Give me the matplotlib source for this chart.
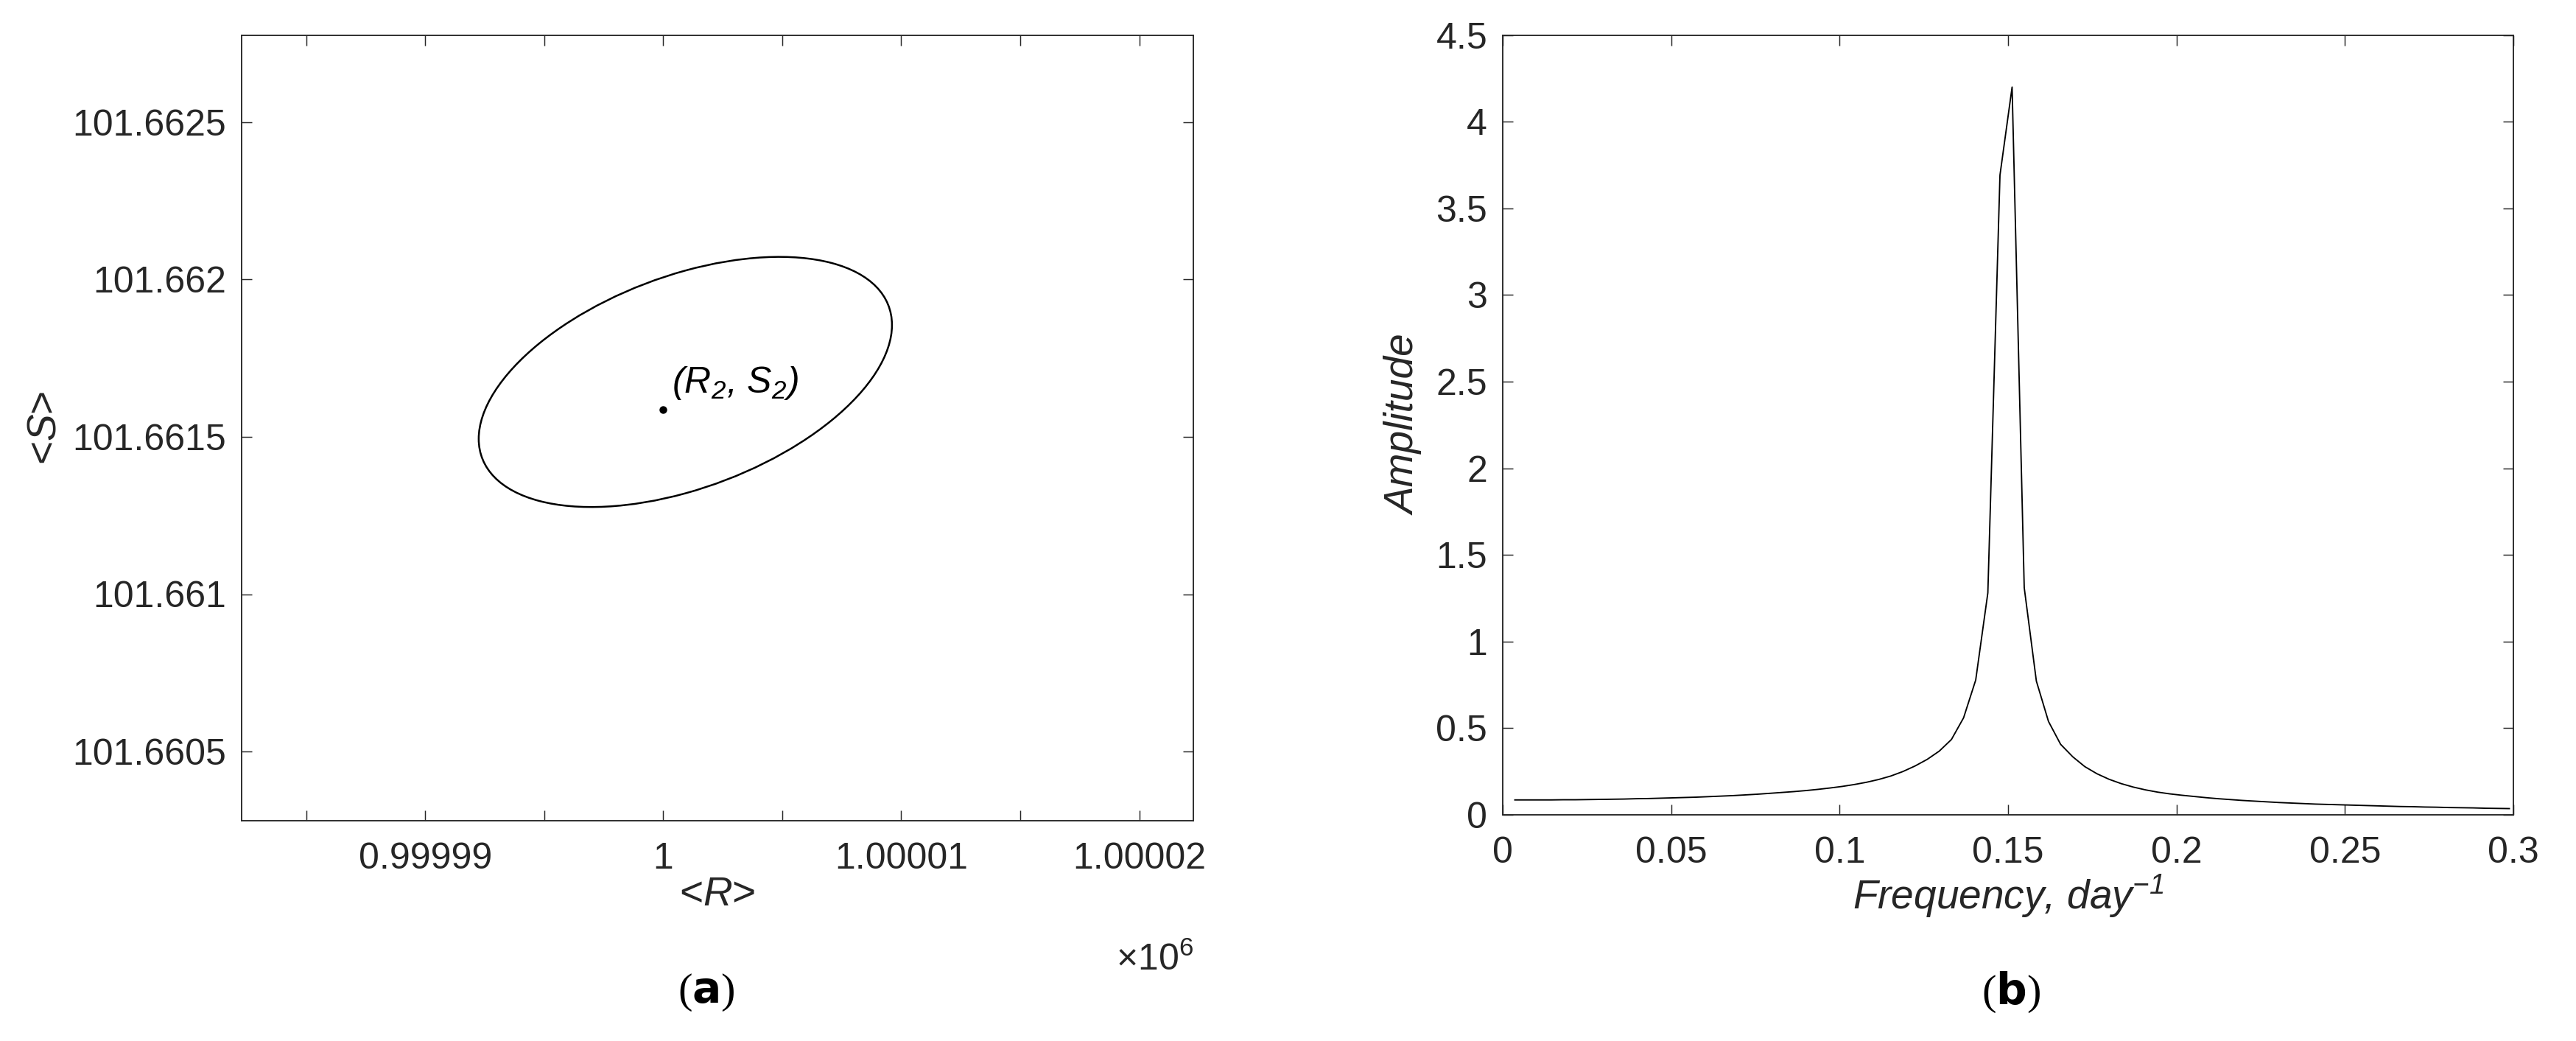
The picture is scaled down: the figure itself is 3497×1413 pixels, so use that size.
import numpy as np
import matplotlib
matplotlib.use("Agg")
import matplotlib.pyplot as plt
from matplotlib.patches import Ellipse
from matplotlib.transforms import Affine2D
from matplotlib.ticker import FuncFormatter, MultipleLocator

plt.rcParams['font.family'] = ['Liberation Sans', 'DejaVu Sans']
plt.rcParams['mathtext.fontset'] = 'custom'
plt.rcParams['mathtext.rm'] = 'Liberation Sans'
plt.rcParams['mathtext.it'] = 'Liberation Sans:italic'
plt.rcParams['mathtext.default'] = 'regular'

# ---------------- data: panel (a) ----------------
point_R2 = 1000000.0          # <R> of the equilibrium point
point_S2 = 101.661587         # <S> of the equilibrium point
ell_center_R = 1000000.93     # ellipse centre
ell_center_S = 101.6616745
ell_half_R = 8.68             # half extent along <R>
ell_half_S = 0.0003975        # half extent along <S>
ell_corr = 0.455              # correlation (tilt)
a_xlim = (999982.29, 1000022.27)
a_ylim = (101.66028, 101.662776)
a_yticks = [101.6605, 101.661, 101.6615, 101.662, 101.6625]

# ---------------- data: panel (b) ----------------
freq = [0.0036, 0.0072, 0.0108, 0.0144, 0.018, 0.0216, 0.0252, 0.0288, 0.0324, 0.036,
        0.0396, 0.0432, 0.0468, 0.0504, 0.054, 0.0576, 0.0612, 0.0648, 0.0684, 0.072,
        0.0756, 0.0792, 0.0828, 0.0864, 0.09, 0.0936, 0.0972, 0.1008, 0.1044, 0.108,
        0.1116, 0.1152, 0.1188, 0.1224, 0.126, 0.1296, 0.1332, 0.1368, 0.1404, 0.144,
        0.1476, 0.1512, 0.1548, 0.1584, 0.162, 0.1656, 0.1692, 0.1728, 0.1764, 0.18,
        0.1836, 0.1872, 0.1908, 0.1944, 0.198, 0.2016, 0.2052, 0.2088, 0.2124, 0.216,
        0.2196, 0.2232, 0.2268, 0.2304, 0.234, 0.2376, 0.2412, 0.2448, 0.2484, 0.252,
        0.2556, 0.2592, 0.2628, 0.2664, 0.27, 0.2736, 0.2772, 0.2808, 0.2844, 0.288,
        0.2916, 0.2952, 0.2988]
amplitude = [0.086, 0.086, 0.086, 0.086, 0.087, 0.087, 0.088, 0.089, 0.090, 0.091,
             0.093, 0.094, 0.096, 0.098, 0.100, 0.102, 0.105, 0.108, 0.111, 0.115,
             0.119, 0.124, 0.129, 0.134, 0.140, 0.147, 0.155, 0.164, 0.175, 0.188,
             0.204, 0.224, 0.250, 0.282, 0.320, 0.368, 0.435, 0.560, 0.778, 1.281,
             3.692, 4.200, 1.311, 0.772, 0.539, 0.407, 0.335, 0.278, 0.237, 0.205,
             0.180, 0.160, 0.144, 0.131, 0.121, 0.113, 0.106, 0.099, 0.093, 0.088,
             0.083, 0.079, 0.075, 0.071, 0.068, 0.065, 0.062, 0.060, 0.058, 0.056,
             0.054, 0.052, 0.050, 0.048, 0.047, 0.045, 0.044, 0.042, 0.041, 0.040,
             0.038, 0.037, 0.036]
b_xlim = (0, 0.3)
b_ylim = (0, 4.5)

# ---------------- figure ----------------
W, H, DPI = 3497, 1413, 300
fig = plt.figure(figsize=(W / DPI, H / DPI), dpi=DPI)
axc = '#262626'

ax1 = fig.add_axes([328 / W, 1 - 1114 / H, (1620 - 328) / W, (1114 - 48) / H])
ax2 = fig.add_axes([2040 / W, 1 - 1106 / H, (3412 - 2040) / W, (1106 - 47.7) / H])

for ax in (ax1, ax2):
    for s in ax.spines.values():
        s.set_color(axc)
        s.set_linewidth(0.45)
    ax.tick_params(direction='in', top=True, right=True, length=3.3, width=0.35,
                   color=axc, labelcolor=axc, labelsize=12)
    ax.tick_params(axis='x', pad=7)
    ax.tick_params(axis='y', pad=5)

# panel (a)
T = Affine2D(np.array([[ell_half_R, 0.0, ell_center_R],
                       [ell_half_S * ell_corr, ell_half_S * np.sqrt(1 - ell_corr ** 2), ell_center_S],
                       [0.0, 0.0, 1.0]]))
ell = Ellipse((0, 0), 2, 2, fill=False, edgecolor='black', linewidth=0.6,
              transform=T + ax1.transData)
ax1.add_patch(ell)
ax1.plot([point_R2], [point_S2], 'o', color='black', markersize=1.5)
ax1.text(point_R2 + 0.37, point_S2 + 0.000054, r'(R$_2$, S$_2$)', fontstyle='italic',
         fontsize=12, color='black', ha='left', va='baseline')
ax1.set_xlim(*a_xlim)
ax1.set_ylim(*a_ylim)
ax1.xaxis.set_major_locator(MultipleLocator(5))
ax1.xaxis.set_major_formatter(FuncFormatter(
    lambda v, p: ('%g' % (round(v) / 1e6)) if round(v) % 10 == 0 else ''))
ax1.set_yticks(a_yticks)
ax1.yaxis.set_major_formatter(FuncFormatter(lambda v, p: ('%.4f' % v).rstrip('0')))
ax1.set_xlabel(r'<$\mathit{R}$>', fontsize=13.2, color=axc)
ax1.set_ylabel(r'<$\mathit{S}$>', fontsize=13.2, color=axc)
ax1.xaxis.set_label_coords(0.5, -0.095)
ax1.yaxis.set_label_coords(-0.206, 0.5)
ax1.xaxis.label.set_va('center')
ax1.yaxis.label.set_va('center')
ax1.text(1.0, -0.19, r'$\times$10$^{6}$', transform=ax1.transAxes, fontsize=12,
         color=axc, ha='right', va='baseline')

# panel (b)
ax2.plot(freq, amplitude, color='black', linewidth=0.45)
ax2.set_xlim(*b_xlim)
ax2.set_ylim(*b_ylim)
ax2.xaxis.set_major_locator(MultipleLocator(0.05))
ax2.yaxis.set_major_locator(MultipleLocator(0.5))
ax2.xaxis.set_major_formatter(FuncFormatter(lambda v, p: '%g' % round(v, 4)))
ax2.yaxis.set_major_formatter(FuncFormatter(lambda v, p: '%g' % round(v, 4)))
ax2.set_xlabel(r'Frequency, day$^{-1}$', fontsize=13.2, fontstyle='italic', color=axc)
ax2.set_ylabel('Amplitude', fontsize=13.2, fontstyle='italic', color=axc)
ax2.xaxis.set_label_coords(0.5, -0.104)
ax2.yaxis.set_label_coords(-0.097, 0.5)
ax2.xaxis.label.set_va('center')
ax2.yaxis.label.set_va('center')

# captions
fig.text(959 / W, 1 - 1347 / H, r'($\mathbf{a}$)', fontsize=14,
         family=['Liberation Serif'], ha='center', va='center', color='black')
fig.text(2730 / W, 1 - 1347 / H, r'($\mathbf{b}$)', fontsize=14,
         family=['Liberation Serif'], ha='center', va='center', color='black')

fig.savefig('out.png', dpi=DPI)
